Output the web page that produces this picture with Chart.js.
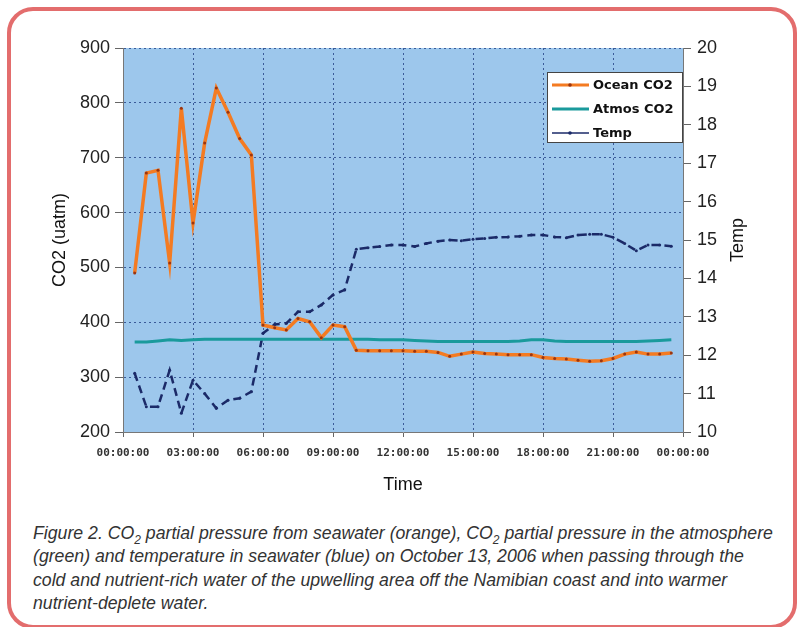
<!DOCTYPE html>
<html>
<head>
<meta charset="utf-8">
<script src="https://cdn.jsdelivr.net/npm/chart.js@4/dist/chart.umd.min.js"></script>
<style>
  body { margin: 0; background: #fff; width: 801px; height: 627px; overflow: hidden; position: relative; }
  .frame { position: absolute; left: 7px; top: 7px; width: 782px; height: 614px; border: 4px solid #e36d6d; border-radius: 26px; }
  .wrap { position: absolute; left: 0; top: 0; width: 801px; height: 500px; }
  .caption { position: absolute; left: 33px; top: 522px; font: italic 17.7px "Liberation Sans", Arial, sans-serif; line-height: 23.3px; color: #333; white-space: nowrap; }
  .caption sub { font-size: 12px; line-height: 0; }
</style>
</head>
<body>
<div class="frame"></div>
<div class="wrap"><canvas id="myChart" width="801" height="500"></canvas></div>
<div class="caption">
  Figure 2. CO<sub>2</sub> partial pressure from seawater (orange), CO<sub>2</sub> partial pressure in the atmosphere<br>
  (green) and temperature in seawater (blue) on October 13, 2006 when passing through the<br>
  cold and nutrient-rich water of the upwelling area off the Namibian coast and into warmer<br>
  nutrient-deplete water.
</div>
<script>
// hours since midnight, October 13 2006
const times = [0.5, 1, 1.5, 2, 2.5, 3, 3.5, 4, 4.5, 5, 5.5, 6, 6.5, 7, 7.5, 8, 8.5, 9, 9.5, 10,
  10.5, 11, 11.5, 12, 12.5, 13, 13.5, 14, 14.5, 15, 15.5, 16, 16.5, 17, 17.5, 18, 18.5, 19, 19.5, 20,
  20.5, 21, 21.5, 22, 22.5, 23, 23.5];
const oceanCO2 = [490, 672, 677, 508, 790, 581, 727, 827, 783, 735, 705, 395, 390, 386, 407, 401, 372, 395, 392, 349,
  348, 348, 348, 348, 347, 347, 345, 338, 342, 346, 343, 342, 341, 341, 341, 336, 334, 333, 331, 329,
  330, 334, 342, 346, 342, 342, 344];
const atmosCO2 = [364, 364, 366, 368, 367, 368, 369, 369, 369, 369, 369, 369, 369, 369, 369, 369, 369, 369, 369, 369,
  369, 368, 368, 368, 367, 366, 365, 365, 365, 365, 365, 365, 365, 366, 368, 368, 366, 365, 365, 365,
  365, 365, 365, 365, 366, 367, 368];
const temp = [11.53, 10.66, 10.66, 11.61, 10.49, 11.35, 11.0, 10.62, 10.83, 10.88, 11.05, 12.57, 12.80, 12.83, 13.13, 13.13, 13.31, 13.57, 13.70, 14.76,
  14.80, 14.83, 14.87, 14.87, 14.83, 14.91, 14.97, 15.0, 14.98, 15.02, 15.04, 15.07, 15.08, 15.10, 15.13, 15.13, 15.08, 15.06, 15.13, 15.15,
  15.15, 15.07, 14.91, 14.72, 14.87, 14.87, 14.84];
const timeLabels = ['00:00:00', '03:00:00', '06:00:00', '09:00:00', '12:00:00', '15:00:00', '18:00:00', '21:00:00', '00:00:00'];
const seriesNames = ['Ocean CO2', 'Atmos CO2', 'Temp'];

const pts = (vals) => times.map((t, i) => ({ x: t, y: vals[i] }));

// light blue plot area like the excel original
const plotBg = {
  id: 'plotBg',
  beforeDraw(chart) {
    const { ctx, chartArea: a } = chart;
    ctx.save();
    ctx.fillStyle = '#9dc7ec';
    ctx.fillRect(a.left, a.top, a.right - a.left, a.bottom - a.top);
    ctx.restore();
  }
};

// boxed legend inside the top right corner + right axis title reading bottom-up
const legendBox = {
  id: 'legendBox',
  afterDraw(chart) {
    const { ctx, chartArea: a } = chart;
    const w = 136, h = 71, x = a.right - w, y = a.top + 24;
    ctx.save();
    ctx.fillStyle = '#fff';
    ctx.fillRect(x, y, w, h);
    ctx.strokeStyle = '#444';
    ctx.lineWidth = 1;
    ctx.strokeRect(x + 0.5, y + 0.5, w - 1, h - 1);
    ctx.font = 'bold 13px "DejaVu Sans", sans-serif';
    ctx.textBaseline = 'middle';
    chart.data.datasets.forEach((ds, i) => {
      const ly = y + 13 + i * 24;
      ctx.strokeStyle = ds.borderColor;
      ctx.lineWidth = i === 2 ? 1.5 : 3;
      ctx.beginPath();
      ctx.moveTo(x + 5, ly);
      ctx.lineTo(x + 42, ly);
      ctx.stroke();
      if (ds.pointRadius) {
        ctx.fillStyle = ds.pointBackgroundColor;
        ctx.beginPath();
        ctx.arc(x + 23, ly, 1.8, 0, Math.PI * 2);
        ctx.fill();
      }
      ctx.fillStyle = '#111';
      ctx.fillText(seriesNames[i], x + 46, ly + 1);
    });

    ctx.translate(738, (a.top + a.bottom) / 2);
    ctx.rotate(-Math.PI / 2);
    ctx.font = '18px "Liberation Sans", Arial, sans-serif';
    ctx.textAlign = 'center';
    ctx.fillStyle = '#111';
    ctx.fillText('Temp', 0, 0);
    ctx.restore();
  }
};

const tickFont = { family: '"Liberation Sans", Arial, sans-serif', size: 18 };
const titleFont = { family: '"Liberation Sans", Arial, sans-serif', size: 18 };

new Chart(document.getElementById('myChart'), {
  type: 'line',
  data: {
    datasets: [{
      label: seriesNames[0],
      data: pts(oceanCO2),
      yAxisID: 'y',
      borderColor: '#f47b22',
      borderWidth: 3.5,
      pointRadius: 1.5,
      pointBackgroundColor: '#9a3510',
      pointBorderWidth: 0,
      tension: 0
    }, {
      label: seriesNames[1],
      data: pts(atmosCO2),
      yAxisID: 'y',
      borderColor: '#1a9a9c',
      borderWidth: 3,
      pointRadius: 0,
      tension: 0
    }, {
      label: seriesNames[2],
      data: pts(temp),
      yAxisID: 'y1',
      borderColor: '#1b2a68',
      borderWidth: 2.5,
      borderDash: [8, 5],
      pointRadius: 1.5,
      pointBackgroundColor: '#1b2a68',
      pointBorderWidth: 0,
      tension: 0
    }]
  },
  options: {
    responsive: false,
    animation: false,
    layout: { padding: { left: 45, right: 53, top: 48, bottom: 0 } },
    plugins: { legend: { display: false }, tooltip: { enabled: false } },
    scales: {
      x: {
        type: 'linear',
        min: 0,
        max: 24,
        afterFit: (s) => { s.height = 68; },
        ticks: {
          stepSize: 3,
          autoSkip: false,
          maxRotation: 0,
          padding: 10,
          color: '#333',
          font: { family: '"DejaVu Sans Mono", monospace', size: 11, weight: 'bold' },
          callback: (v) => timeLabels[v / 3]
        },
        grid: { color: '#3a5a99', tickLength: 5, tickColor: '#666', tickBorderDash: [] },
        border: { display: true, color: '#777', width: 1, dash: [2, 3] },
        title: { display: true, text: 'Time', color: '#111', font: titleFont, padding: { top: 4, bottom: 4 } }
      },
      y: {
        position: 'left',
        min: 200,
        max: 900,
        afterFit: (s) => { s.width = 78; },
        ticks: { stepSize: 100, padding: 5, color: '#222', font: tickFont },
        grid: { color: '#3a5a99', tickLength: 8, tickColor: '#666', tickBorderDash: [] },
        border: { display: true, color: '#777', width: 1, dash: [2, 3] },
        title: { display: true, text: 'CO2 (uatm)', color: '#111', font: titleFont, padding: { top: 4, bottom: 4 } }
      },
      y1: {
        position: 'right',
        min: 10,
        max: 20,
        afterFit: (s) => { s.width = 65; },
        ticks: { stepSize: 1, padding: 6, color: '#222', font: tickFont },
        grid: { drawOnChartArea: false, tickLength: 8, color: '#666' },
        border: { display: true, color: '#777', width: 1 },
        title: { display: false }
      }
    }
  },
  plugins: [plotBg, legendBox]
});
</script>
</body>
</html>
